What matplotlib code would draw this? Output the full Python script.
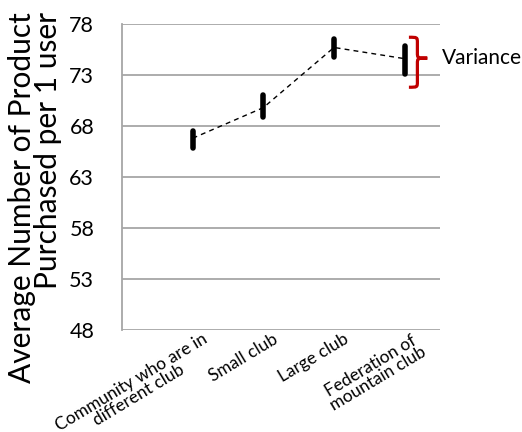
import numpy as np
import matplotlib
matplotlib.use("Agg")
import matplotlib.pyplot as plt
import matplotlib.transforms as mtransforms
from matplotlib.path import Path
from matplotlib.patches import PathPatch

plt.rcParams['font.family'] = ['Lato', 'DejaVu Sans']

# data
categories = ["Community who are in\ndifferent club", "Small club", "Large club",
              "Federation of\nmountain club"]
means = [66.8, 69.8, 75.7, 74.6]
lows = [65.8, 68.9, 74.8, 73.1]
highs = [67.5, 71.0, 76.5, 75.8]
yticks = [48, 53, 58, 63, 68, 73, 78]

fig = plt.figure(figsize=(5.22, 4.32), dpi=100)
ax = fig.add_axes([122/522, 1 - 330/432, 318/522, 306/432])

xs = np.arange(1, len(categories) + 1)
ax.set_xlim(0, 4.5)
ax.set_ylim(48, 78)

for y in yticks:
    ax.axhline(y, color='#a6a6a6', lw=1.3, zorder=1)

ax.plot(xs, means, color='black', lw=1, ls=(0, (3.5, 3)), zorder=2)
for x, lo, hi in zip(xs, lows, highs):
    ax.plot([x, x], [lo, hi], color='black', lw=4.0, solid_capstyle='round', zorder=3)

ax.set_yticks(yticks)
ax.set_yticklabels([str(v) for v in yticks], fontsize=15.5)
ax.tick_params(axis='y', length=0, pad=20)
ax.set_xticks(xs)
ax.set_xticklabels(categories, fontsize=12.5, rotation=31, ha='right',
                   rotation_mode='anchor', multialignment='center')
ax.tick_params(axis='x', length=0, pad=3)
shift = mtransforms.ScaledTranslation(9/100, 3/100, fig.dpi_scale_trans)
for lbl in ax.get_xticklabels():
    lbl.set_linespacing(0.88)
    lbl.set_transform(lbl.get_transform() + shift)
for s in ['top', 'right', 'bottom']:
    ax.spines[s].set_visible(False)
ax.spines['left'].set_color('#a6a6a6')
ax.spines['left'].set_linewidth(1.3)

fig.text(8/522, 1 - 12/432, "Average Number of Product\nPurchased per 1 user",
         rotation=90, ha='left', va='top', multialignment='right', fontsize=21.5,
         linespacing=0.9)

# red brace marking the variance
x0, xm, xt = 4.06, 4.18, 4.32
yt, ymid, yb = 76.7, 74.65, 71.8
d = 0.55
verts = [(x0, yt), (xm, yt), (xm, yt), (xm, yt - d),
         (xm, ymid + d), (xm, ymid), (xm, ymid), (xt, ymid),
         (xm, ymid), (xm, ymid), (xm, ymid - d),
         (xm, yb + d), (xm, yb), (xm, yb), (x0, yb)]
codes = [Path.MOVETO, Path.CURVE4, Path.CURVE4, Path.CURVE4,
         Path.LINETO, Path.CURVE4, Path.CURVE4, Path.CURVE4,
         Path.CURVE4, Path.CURVE4, Path.CURVE4,
         Path.LINETO, Path.CURVE4, Path.CURVE4, Path.CURVE4]
ax.add_patch(PathPatch(Path(verts, codes), fc='none', ec='#c00000', lw=2.3,
                       clip_on=False, zorder=4))
ax.text(4.5 + 2/70.7, 74.65, "Variance", fontsize=15, va='center', ha='left',
        clip_on=False)

fig.savefig("out.png", dpi=100)
